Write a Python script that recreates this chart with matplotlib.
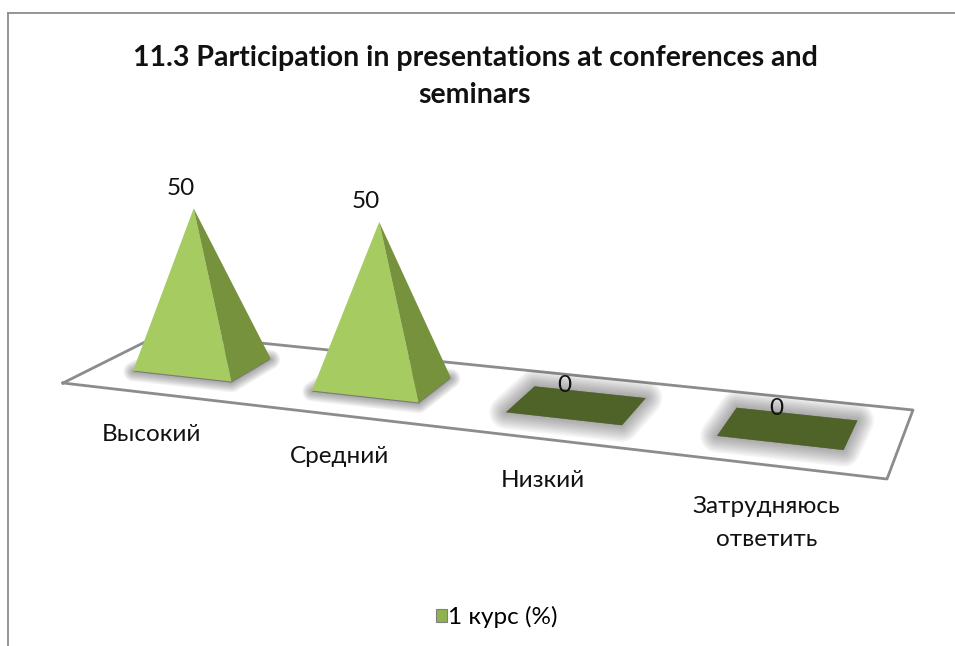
import numpy as np
import matplotlib
matplotlib.use('Agg')
import matplotlib.pyplot as plt
from matplotlib.patches import Patch

title = '11.3 Participation in presentations at conferences and\nseminars'
categories = ['Высокий', 'Средний', 'Низкий', 'Затрудняюсь\nответить']
values = [50, 50, 0, 0]
series_name = '1 курс (%)'

W, H = 955, 646
FONT = ['Lato', 'Open Sans', 'DejaVu Sans']
LIGHT = '#a6cb60'
DARK = '#76923c'
FLAT = '#4f6228'
FLOOR = '#8c8c8c'
label_dx = [1, 1, 0, 0]


def make_floor():
    # homography from (category position, depth) to picture pixels
    src = [(0, 0), (4, 0), (4, 1), (0, 1)]
    dst = [(63, 383), (887, 479), (913, 410), (163, 333)]
    a = []
    b = []
    for (u, v), (x, y) in zip(src, dst):
        a.append([u, v, 1, 0, 0, 0, -u * x, -v * x])
        a.append([0, 0, 0, u, v, 1, -u * y, -v * y])
        b += [x, y]
    return np.append(np.linalg.solve(np.array(a, float), np.array(b, float)), 1).reshape(3, 3)


M = make_floor()


def proj(u, v):
    p = M @ np.array([u, v, 1.0])
    return p[0] / p[2], p[1] / p[2]


def glow(ax, pts, z, size=22, offset=(0, 0)):
    xs = [p[0] + offset[0] for p in pts]
    ys = [p[1] + offset[1] for p in pts]
    for lw in np.linspace(size, 1, 10):
        ax.fill(xs, ys, facecolor='#404040', edgecolor='#404040', alpha=0.055,
                lw=lw, joinstyle='round', zorder=z)


fig = plt.figure(figsize=(W / 100, H / 100), dpi=100)
ax = fig.add_axes([8 / W, 0, (W - 8) / W, (H - 13) / H])
ax.set_xlim(8, W)
ax.set_ylim(H, 13)
ax.set_xticks([])
ax.set_yticks([])
for side in ['right', 'bottom']:
    ax.spines[side].set_visible(False)
for side in ['left', 'top']:
    ax.spines[side].set_color(FLOOR)
    ax.spines[side].set_linewidth(1.3)

corners = [proj(0, 0), proj(4, 0), proj(4, 1), proj(0, 1), proj(0, 0)]
ax.plot([c[0] for c in corners], [c[1] for c in corners], color=FLOOR, lw=2, zorder=1)

half_u = 0.28
half_v = 0.22
depth = 0.53
for i, val in enumerate(values):
    u = i + 0.497
    left = proj(u - half_u, depth + half_v)
    left_front = proj(u - half_u, depth - half_v)
    right_front = proj(u + half_u, depth - half_v)
    right_back = proj(u + half_u, depth + half_v)
    base = [left, left_front, right_front, right_back]
    cx, cy = proj(u, depth)
    # nearer categories stand a bit taller and lean less
    px_per_value = 3.12 + 0.12 * i
    lean = (-9 + 6 * i) if val > 0 else 1
    top = (cx + lean, cy - val * px_per_value)
    if val > 0:
        glow(ax, [left_front, right_front, right_back, left], 2, size=14, offset=(0, 1))
        ax.fill([left_front[0], right_front[0], top[0]],
                [left_front[1], right_front[1], top[1]], color=LIGHT, lw=0, zorder=4)
        ax.fill([right_front[0], right_back[0], top[0]],
                [right_front[1], right_back[1], top[1]], color=DARK, lw=0, zorder=4)
    else:
        glow(ax, base, 2, size=24)
        ax.fill([p[0] for p in base], [p[1] for p in base], color=FLAT, lw=0, zorder=4)
    ax.text(top[0] - 13, top[1] - 20, str(val), ha='center', va='center',
            fontsize=17.5, family=FONT, color='#111111', zorder=6)
    lx, ly = proj(u, 0)
    ax.text(lx + label_dx[i], ly + 31, categories[i], ha='center', va='top', fontsize=17.5,
            family=FONT, color='#111111', linespacing=1.7, zorder=6)

ax.text(475, 76.5, title, ha='center', va='center', fontsize=20.5, fontweight='bold',
        family=FONT, color='#111111', linespacing=1.5)

leg = [Patch(facecolor='#8fb24e', edgecolor='#7f7f7f', lw=0.8, label=series_name)]
fig.legend(handles=leg, loc='center', bbox_to_anchor=(497 / W, 1 - 617 / H), frameon=False,
           prop={'family': FONT, 'size': 17.5}, handlelength=0.45, handleheight=0.45,
           handletextpad=0.05)

fig.savefig('out.png', dpi=100)
